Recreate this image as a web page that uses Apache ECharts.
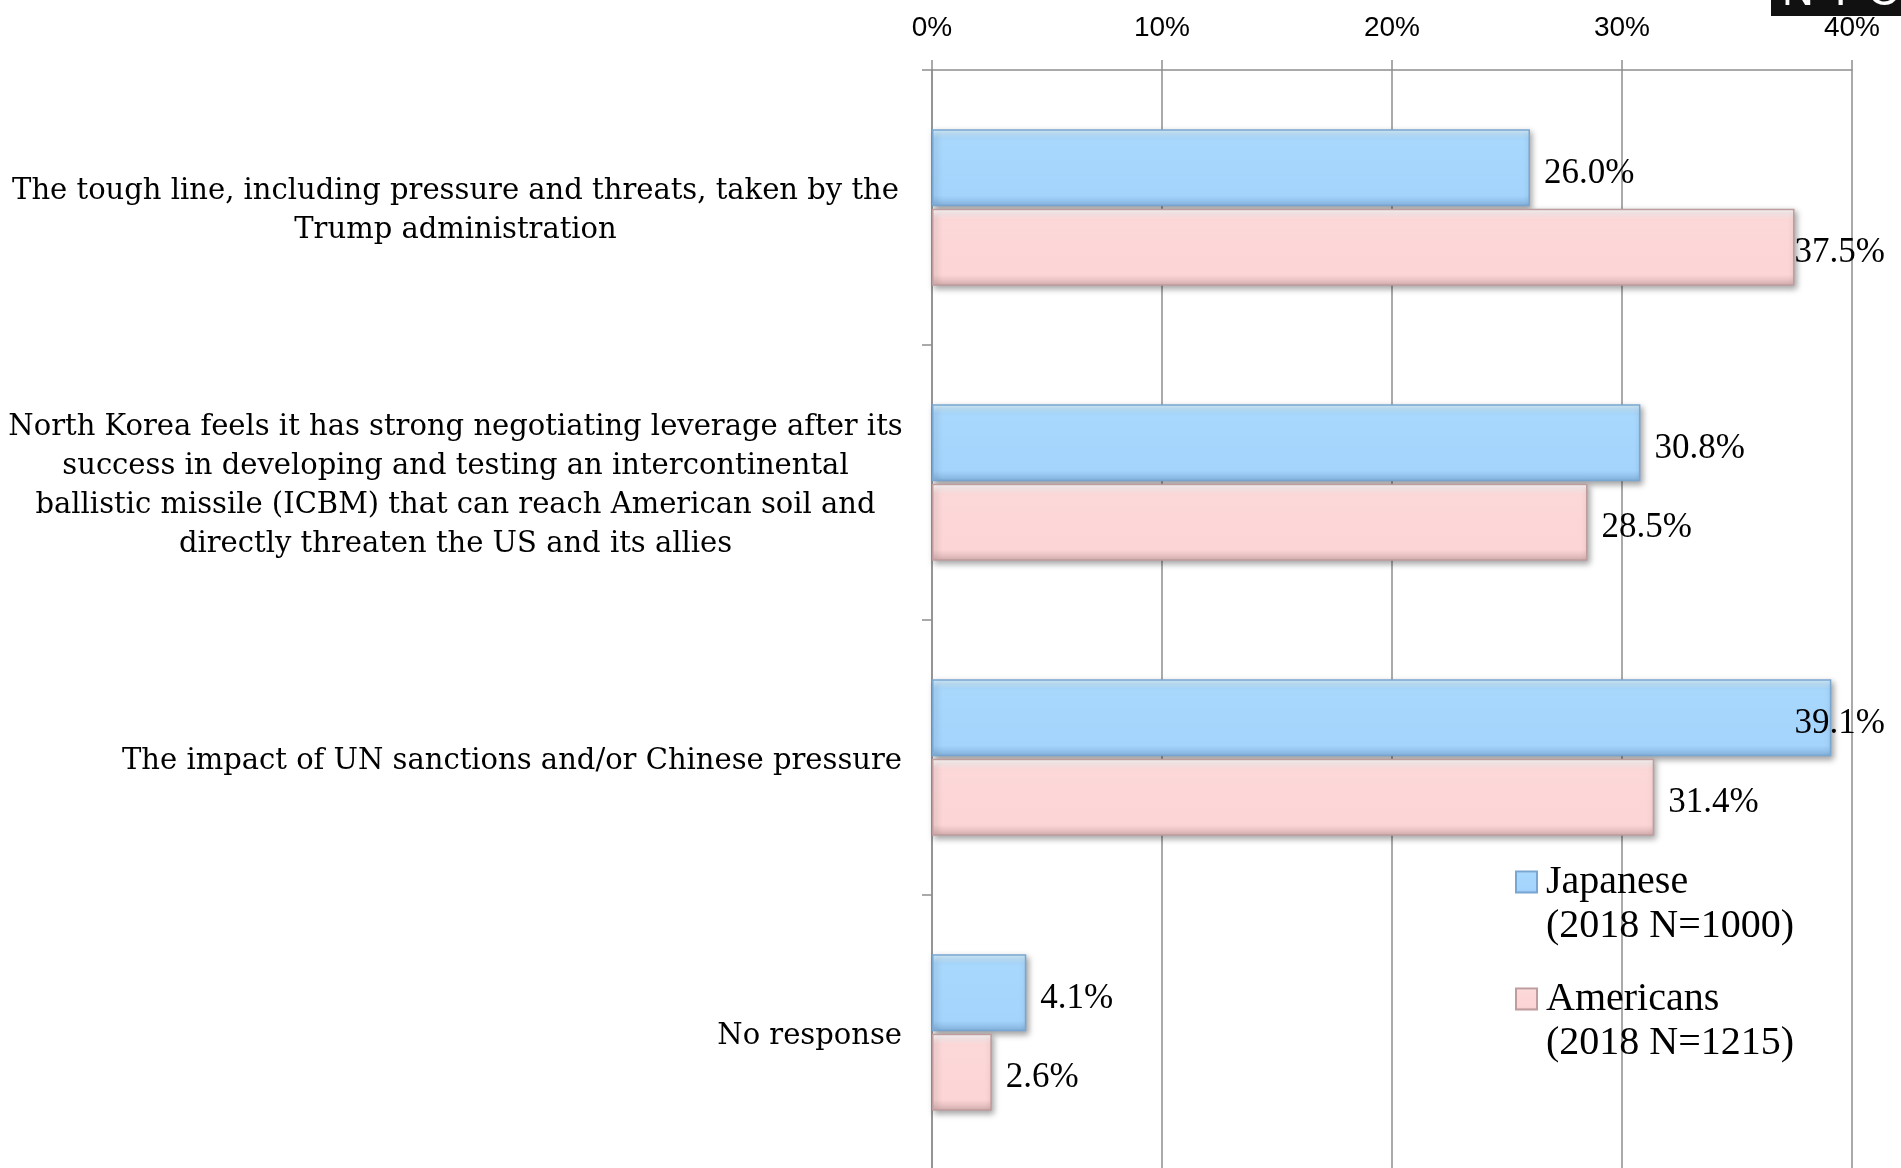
<!DOCTYPE html>
<html>
<head>
<meta charset="utf-8">
<title>Reasons</title>
<script src="https://cdn.jsdelivr.net/npm/echarts@6/dist/echarts.min.js"></script>
<style>
  html, body { margin: 0; padding: 0; background: #fff; }
  #chart { width: 1901px; height: 1168px; }
</style>
</head>
<body>
<div id="chart"></div>
<script>
// 数据
const categories = [
  'The tough line, including pressure and threats, taken by the\nTrump administration',
  'North Korea feels it has strong negotiating leverage after its\nsuccess in developing and testing an intercontinental\nballistic missile (ICBM) that can reach American soil and\ndirectly threaten the US and its allies',
  'The impact of UN sanctions and/or Chinese pressure',
  'No response'
]
const seriesNames = ['Japanese\n(2018 N=1000)', 'Americans\n(2018 N=1215)']
const japanese = [26.0, 30.8, 39.1, 4.1]
const americans = [37.5, 28.5, 31.4, 2.6]
const tickLabels = ['0%', '10%', '20%', '30%', '40%']

const serif = 'Liberation Serif'
const labelSerif = 'DejaVu Serif'
const gridColor = '#8e8e8e'

const myChart = echarts.init(document.getElementById('chart'))

function grad(stops) {
  return new echarts.graphic.LinearGradient(0, 0, 0, 1, stops.map(c => ({ offset: c[0], color: c[1] })))
}

const blueStyle = {
  color: grad([[0, '#d8f2ff'], [0.12, '#a9d8fd'], [0.86, '#a4d4fc'], [1, '#84b3de']]),
  borderColor: '#7aa6d2',
  borderWidth: 1.5,
  shadowColor: 'rgba(0,0,0,0.35)',
  shadowBlur: 6,
  shadowOffsetX: 2,
  shadowOffsetY: 3
}
const pinkStyle = {
  color: grad([[0, '#ffffff'], [0.14, '#fdd8d9'], [0.86, '#fcd5d6'], [1, '#d6b0b1']]),
  borderColor: '#bf9c9d',
  borderWidth: 1.5,
  shadowColor: 'rgba(0,0,0,0.35)',
  shadowBlur: 6,
  shadowOffsetX: 2,
  shadowOffsetY: 3
}

const barLabel = {
  show: true,
  position: 'right',
  distance: 14,
  color: '#000',
  fontFamily: serif,
  fontSize: 35,
  formatter: p => p.value.toFixed(1) + '%'
}

// 标签超出右边界时左移
const labelRightLimit = 1885
function clampLabel(params) {
  const r = params.labelRect
  const over = r.x + r.width - labelRightLimit
  if (over > 0) {
    return {
      x: r.x - over,
      y: r.y + r.height / 2 + 6,
      align: 'left',
      verticalAlign: 'middle'
    }
  }
  return { dy: 6 }
}

let option = {
  animation: false,
  backgroundColor: '#fff',
  grid: { left: 932, right: 49, top: 70, bottom: -2, containLabel: false, outerBoundsMode: 'none' },
  legend: {
    orient: 'vertical',
    left: 1515,
    top: 816,
    padding: 0,
    icon: 'rect',
    itemWidth: 21,
    itemHeight: 21,
    itemGap: -15,
    selectedMode: false,
    formatter: name => '\n' + name,
    textStyle: {
      fontFamily: serif,
      fontSize: 40,
      lineHeight: 44,
      color: '#000',
      padding: [0, 0, 0, 4]
    },
    data: seriesNames
  },
  xAxis: {
    type: 'value',
    position: 'top',
    min: 0,
    max: 40,
    interval: 10,
    axisLine: { show: true, lineStyle: { color: gridColor, width: 1.5 } },
    axisTick: { show: true, length: 10, lineStyle: { color: gridColor, width: 1.5 } },
    axisLabel: {
      margin: 28,
      color: '#000',
      fontFamily: 'Liberation Sans',
      fontSize: 28,
      formatter: v => tickLabels[v / 10]
    },
    splitLine: { show: true, lineStyle: { color: gridColor, width: 1.5 } }
  },
  yAxis: {
    type: 'category',
    inverse: true,
    data: categories,
    axisLine: { show: true, lineStyle: { color: gridColor, width: 1.5 } },
    axisTick: { show: true, length: 10, lineStyle: { color: gridColor, width: 1.5 } },
    axisLabel: {
      margin: 30,
      color: '#000',
      fontFamily: labelSerif,
      fontSize: 29,
      lineHeight: 39,
      padding: [7, 0, 0, 0],
      formatter: v => {
        const lines = v.split('\n')
        if (lines.length === 1) return v
        return lines.map(l => '{c|' + l + '}').join('\n')
      },
      rich: {
        c: { width: 893, align: 'center', fontFamily: labelSerif, fontSize: 29, lineHeight: 39, color: '#000' }
      }
    }
  },
  series: [
    {
      name: seriesNames[0],
      type: 'bar',
      barWidth: 77,
      barGap: '3%',
      data: japanese,
      itemStyle: blueStyle,
      label: barLabel,
      labelLayout: clampLabel
    },
    {
      name: seriesNames[1],
      type: 'bar',
      barWidth: 77,
      barGap: '3%',
      data: americans,
      itemStyle: pinkStyle,
      label: barLabel,
      labelLayout: clampLabel
    }
  ],
  graphic: [
    {
      type: 'rect',
      left: 1771,
      top: 0,
      shape: { width: 130, height: 16 },
      style: { fill: '#111' },
      z: 10
    },
    {
      type: 'text',
      x: 1782,
      y: 15,
      style: {
        text: 'N Y C',
        fill: '#fff',
        fontFamily: 'Liberation Sans',
        fontSize: 44,
        verticalAlign: 'bottom'
      },
      z: 11
    }
  ]
}

myChart.setOption(option)
window.addEventListener('resize', () => {
  myChart && myChart.resize()
})
</script>
</body>
</html>
